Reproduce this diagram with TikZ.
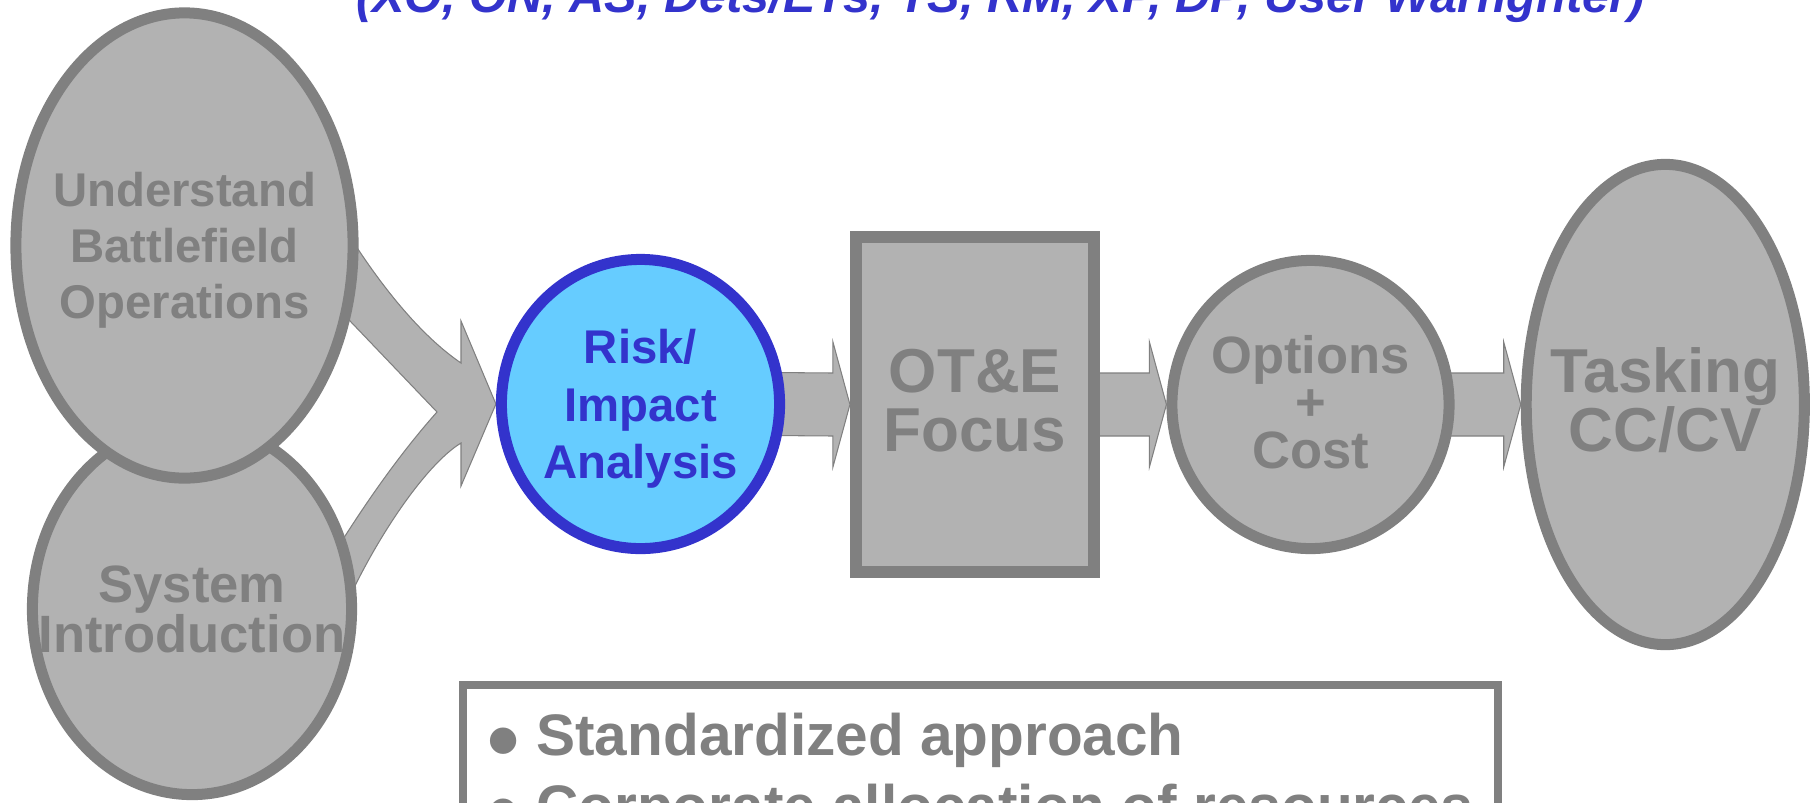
\documentclass[tikz,border=0pt]{standalone}
\usepackage{fontspec}
\setmainfont{Liberation Sans}
\usepackage{xcolor}
\usepackage{graphicx}
\usepackage{tikz}
\usetikzlibrary{shapes, calc, backgrounds}

\definecolor{shadegray}{RGB}{178,178,178}
\definecolor{edgegray}{RGB}{128,128,128}
\definecolor{inkblue}{RGB}{51,51,204}
\definecolor{skyblue}{RGB}{102,204,255}

\newcommand{\bigdot}{\raisebox{-4.75pt}{\scalebox{1.57}{\textbullet}}}

\tikzset{
    stage/.style={ellipse, draw=edgegray, fill=shadegray, line width=3.13pt, text=edgegray, align=center, inner xsep=-1cm, inner ysep=0pt},
    blockarrow/.style={draw=edgegray, fill=shadegray, line width=0.3pt, line join=miter},
    smalltxt/.style={font=\fontsize{13.46pt}{16.36pt}\selectfont\bfseries},
    midtxt/.style={font=\fontsize{14.94pt}{14.2pt}\selectfont\bfseries},
    bigtxt/.style={font=\fontsize{17.64pt}{16.8pt}\selectfont\bfseries}
}

\begin{document}
\begin{tikzpicture}[x=0.01cm, y=-0.01cm]
    \useasboundingbox (0,0) rectangle (1817,802);
    \clip (0,0) rectangle (1817,802);

    % Roles (top, cut by the frame)
    \node[anchor=base west, inner sep=0pt, text=inkblue, font=\fontsize{13.84pt}{16pt}\selectfont\bfseries\itshape] (roles) at (355.5,12) {(XO, ON, AS, Dets/ETs, TS, RM, XP, DP, User Warfighter)};

    % Inputs (left)
    \node[stage, midtxt, minimum width=3.19cm, minimum height=3.71cm] (intro) at (192,609) {System\\Introduction};
    \node[stage, font=\fontsize{13.46pt}{15.93pt}\selectfont\bfseries, text depth=0pt, minimum width=3.37cm, minimum height=4.65cm] (battle) at (184.5,245.5) {Understand\\Battlefield\\Operations};

    % Process chain
    \node[stage, smalltxt, text depth=0pt, draw=inkblue, fill=skyblue, text=inkblue, minimum width=2.78cm, minimum height=2.89cm] (risk) at (640.5,404) {Risk/\\Impact\\Analysis};
    \node[rectangle, bigtxt, text depth=2.28pt, draw=edgegray, fill=shadegray, line width=3.41pt, text=edgegray, align=center, minimum width=2.38cm, minimum height=3.35cm] (focus) at (975,404.5) {OT\&E\\Focus};
    \node[stage, font=\fontsize{14.94pt}{13.5pt}\selectfont\bfseries, text depth=1.6pt, minimum width=2.77cm, minimum height=2.88cm] (options) at (1310.5,404.5) {Options\\+\\Cost};
    \node[stage, bigtxt, text depth=2.6pt, minimum width=2.78cm, minimum height=4.80cm] (tasking) at (1665.3,404.5) {Tasking\\CC/CV};

    % Benefits box (bottom, cut by the frame)
    \node[rectangle, draw=edgegray, line width=2.28pt, text=edgegray, align=left, minimum width=10.35cm, inner ysep=0.28cm, anchor=north, font=\fontsize{16.65pt}{20.2pt}\selectfont\bfseries] (benefits) at (980.65,680.7) {\bigdot\ Standardized approach\\\bigdot\ Corporate allocation of resources};

    \begin{scope}[on background layer]
        % Merging arrow into risk analysis
        \draw[blockarrow] (345,229) .. controls (380,285) and (420,335) .. (461,363) -- (461,321) -- (risk.west) -- (461,486) -- (461,443) .. controls (425,465) and (375,540) .. (345,607) -- (330,560) .. controls (370,495) and (405,448) .. (437,412) -- (330,300) -- cycle;

        % Block arrows along the chain
        \foreach \from/\to in {risk/focus, focus/options, options/tasking}
            \draw[blockarrow] ($(\from.east)+(-12,-31.5)$) -- ($(\to.west)+(-17,-31.5)$) -- ($(\to.west)+(-17,-62.5)$) -- (\to.west) -- ($(\to.west)+(-17,62.5)$) -- ($(\to.west)+(-17,31.5)$) -- ($(\from.east)+(-12,31.5)$) -- cycle;
    \end{scope}
\end{tikzpicture}
\end{document}
